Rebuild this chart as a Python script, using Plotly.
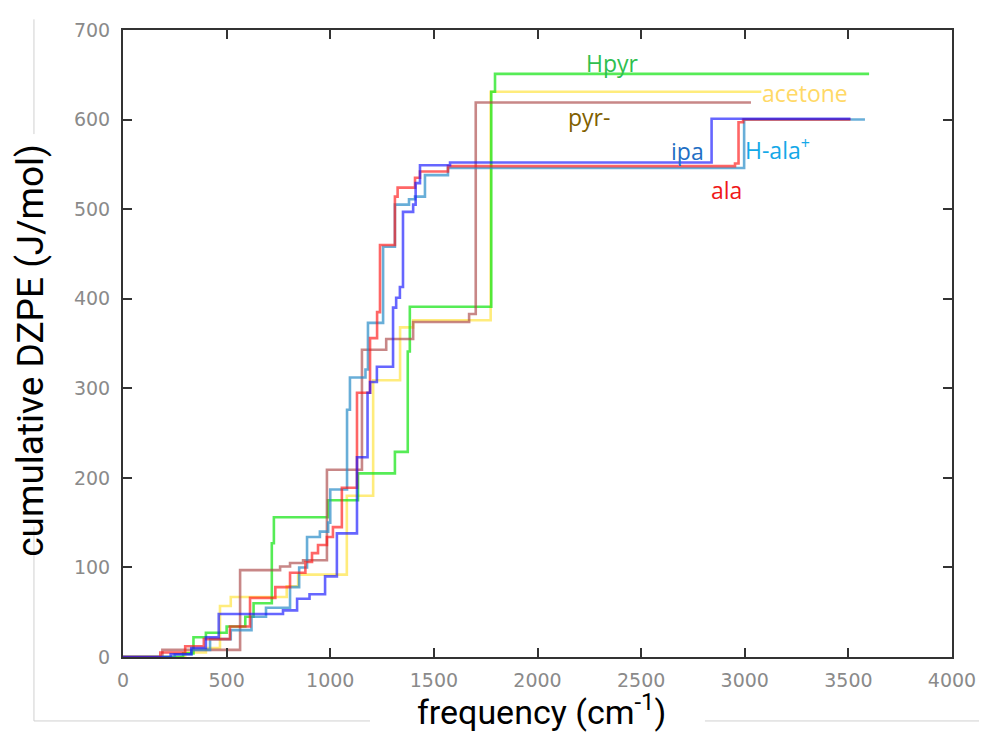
import plotly.graph_objects as go

# ---- data (frequency in cm^-1, cumulative DZPE in J/mol), step functions ----
hpyr_x = [0, 290, 340, 400, 500, 590, 630, 718, 728, 989, 1134, 1312, 1374, 1384, 1777, 1795, 3600]
hpyr_y = [0, 4, 22, 27, 34, 45, 60, 127, 156, 175, 205, 229, 341, 391, 631, 651, 651]

acetone_x = [0, 300, 400, 468, 520, 790, 845, 1080, 1207, 1337, 1400, 1774, 3080]
acetone_y = [0, 5, 10, 57, 67, 79, 92, 180, 309, 368, 376, 631, 631]

pyr_x = [0, 190, 565, 758, 806, 869, 984, 1153, 1270, 1400, 1670, 1702, 3030]
pyr_y = [0, 8, 97, 101, 105, 108, 209, 343, 355, 374, 383, 619, 619]

hala_x = [0, 250, 330, 420, 520, 620, 690, 806, 850, 888, 950, 990, 1000, 1081, 1095, 1170, 1182,
          1255, 1312, 1380, 1409, 1457, 1568, 2997, 3580]
hala_y = [0, 3, 8, 20, 30, 45, 55, 78, 100, 134, 140, 150, 187, 276, 312, 321, 373,
          458, 505, 511, 514, 538, 546, 600, 600]

ala_x = [0, 180, 300, 390, 516, 613, 735, 806, 880, 912, 941, 984, 1013, 1056, 1129, 1192, 1226,
         1240, 1312, 1325, 1409, 1433, 1568, 2953, 2970, 2992, 3510]
ala_y = [0, 5, 12, 20, 34, 66, 78, 94, 106, 116, 125, 134, 145, 189, 295, 356, 385,
         460, 514, 524, 535, 542, 548, 551, 597, 600, 600]

ipa_x = [0, 230, 330, 400, 462, 772, 840, 900, 975, 1032, 1129, 1180, 1192, 1225, 1303, 1318, 1336,
         1351, 1400, 1412, 1433, 1578, 2840, 3510]
ipa_y = [0, 3, 10, 22, 48, 52, 65, 70, 90, 138, 223, 295, 307, 324, 390, 401, 413,
         497, 505, 529, 549, 552, 601, 601]

series = [
    ("acetone", acetone_x, acetone_y, "rgba(255,230,80,0.75)"),
    ("Hpyr", hpyr_x, hpyr_y, "rgba(30,230,30,0.75)"),
    ("pyr-", pyr_x, pyr_y, "rgba(170,70,70,0.65)"),
    ("H-ala+", hala_x, hala_y, "rgba(40,140,200,0.7)"),
    ("ala", ala_x, ala_y, "rgba(255,20,20,0.65)"),
    ("ipa", ipa_x, ipa_y, "rgba(20,20,255,0.65)"),
]

# label text, position (data units), colour
label_text = ["Hpyr", "acetone", "pyr-", "ipa", "H-ala<sup>+</sup>", "ala"]
label_x = [2360, 3290, 2250, 2725, 3160, 2910]
label_y = [663, 630, 603, 565, 567, 521]
label_col = ["#2fbf4f", "#ffd966", "#7f6000", "#1f6fc4", "#14a8e8", "#f01818"]

x_ticks = [0, 500, 1000, 1500, 2000, 2500, 3000, 3500, 4000]
y_ticks = [0, 100, 200, 300, 400, 500, 600, 700]

fig = go.Figure()
for name, xs, ys, col in series:
    fig.add_trace(go.Scatter(x=xs, y=ys, mode="lines", name=name,
                             line=dict(color=col, width=2.6, shape="hv"),
                             showlegend=False, hoverinfo="skip"))

for t, x, y, c in zip(label_text, label_x, label_y, label_col):
    fig.add_annotation(x=x, y=y, text=t, showarrow=False,
                       font=dict(family="Open Sans, Lato, sans-serif", size=23, color=c))

tickfont = dict(family="DejaVu Sans, sans-serif", size=19, color="#8a8a8a")
axis_common = dict(showgrid=False, zeroline=False, showline=True, linecolor="#333333",
                   linewidth=2, mirror="ticks", ticks="inside", ticklen=9, tickwidth=2,
                   tickcolor="#333333", tickfont=tickfont)

fig.update_xaxes(range=[0, 4000], tickvals=x_ticks, ticktext=[str(v) for v in x_ticks],
                 ticklabelstandoff=5, **axis_common)
fig.update_yaxes(range=[0, 700], tickvals=y_ticks, ticktext=[str(v) for v in y_ticks],
                 ticklabelstandoff=7, **axis_common)

title_font = dict(family="Liberation Sans Narrow, Roboto, sans-serif", size=37, color="black")
fig.add_annotation(xref="paper", yref="paper", x=0.505, y=-0.084, yanchor="middle",
                   xanchor="center", text="frequency (cm<sup>-1</sup>)", showarrow=False,
                   font=dict(family=title_font["family"], size=34, color="black"))
fig.add_annotation(xref="paper", yref="paper", x=-0.111, y=0.49, textangle=-90,
                   xanchor="center", yanchor="middle",
                   text="cumulative DZPE (J/mol)", showarrow=False, font=title_font)

# faint frame lines of the original picture
frame = dict(type="line", xref="paper", yref="paper", line=dict(color="#d0d0d0", width=1), layer="below")
fig.add_shape(x0=-0.1074, x1=-0.1074, y0=1.017, y1=0.834, **frame)
fig.add_shape(x0=-0.1074, x1=-0.1074, y0=0.208, y1=-0.102, **frame)
fig.add_shape(x0=-0.1074, x1=0.298, y0=-0.102, y1=-0.102, **frame)
fig.add_shape(x0=0.702, x1=1.04, y0=-0.102, y1=-0.102, **frame)

# page body adds an 8px offset; margins compensate so the plot area sits where the reference has it
fig.update_layout(width=987, height=734, plot_bgcolor="white", paper_bgcolor="white",
                  margin=dict(l=115, r=43, t=22, b=85))

fig.write_html("out.html")
